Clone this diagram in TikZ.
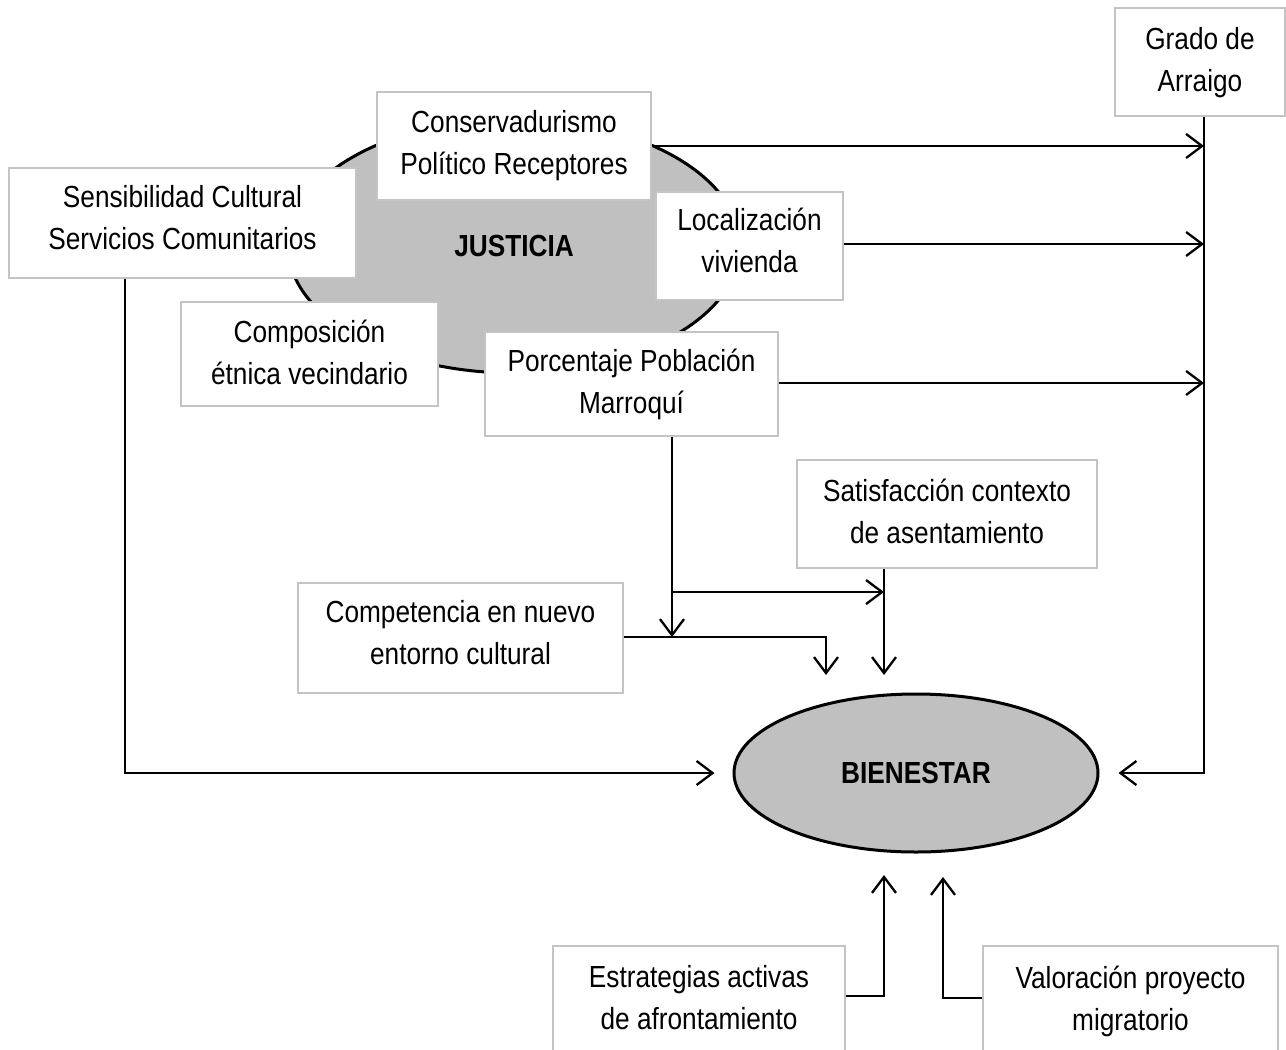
\documentclass[tikz,border=0pt]{standalone}
\usepackage{fontspec}
\setmainfont{Liberation Sans}[FakeStretch=0.86]
\usetikzlibrary{arrows.meta,shapes.geometric}
\definecolor{boxgray}{RGB}{196,196,196}
\definecolor{ellfill}{RGB}{192,192,192}
\tikzset{
  box/.style={draw=boxgray, line width=1.6pt, fill=white, inner sep=0pt},
  txt/.style={inner sep=0pt, align=center, font=\fontsize{30.5}{42}\selectfont},
  ell/.style={ellipse, draw=black, line width=3pt, fill=ellfill, inner sep=0pt,
    font=\fontsize{30.5}{42}\selectfont\bfseries},
  conn/.style={line width=2.3pt, draw=black},
  arr/.style={conn, -{Straight Barb[length=16pt,width=24pt]}},
}
% #1 name, #2 x, #3 y, #4 width, #5 height, #6 text y, #7 text
\newcommand\mybox[7]{%
  \node[box, minimum width=#4pt, minimum height=#5pt] (#1) at (#2,#3) {};
  \node[txt] (#1-t) at (#2,#6) {#7};}
\begin{document}
\begin{tikzpicture}[x=1pt,y=-1pt]
\useasboundingbox (0,0) rectangle (1286,1050);
\clip (0,0) rectangle (1286,1050);
\fill[white] (0,0) rectangle (1286,1050);
% ellipses
\node[ell, minimum width=452pt, minimum height=254pt] (just) at (514,246) {JUSTICIA};
\node[ell, minimum width=364pt, minimum height=158pt] (bien) at (916,773) {BIENESTAR};
% boxes
\mybox{grado}{1200}{62}{170}{108}{63}{Grado de\\Arraigo}
\mybox{cons}{514}{146}{274}{108}{146}{Conservadurismo\\Político Receptores}
\mybox{sens}{182.5}{223}{347}{110}{218}{Sensibilidad Cultural\\Servicios Comunitarios}
\mybox{loc}{749.5}{246}{187}{108}{240.5}{Localización\\vivienda}
\mybox{comp}{309.5}{354}{257}{104}{352}{Composición\\étnica vecindario}
\mybox{porc}{631.5}{384}{293}{104}{384}{Porcentaje Población\\Marroquí}
\mybox{sat}{947}{514}{300}{108}{511}{Satisfacción contexto\\de asentamiento}
\mybox{compet}{460.5}{638}{325}{110}{632.5}{Competencia en nuevo\\entorno cultural}
\mybox{estr}{699}{1000}{292}{108}{997.5}{Estrategias activas\\de afrontamiento}
\mybox{valor}{1130.5}{1000}{295}{108}{1001}{Valoración proyecto\\migratorio}
% helper coordinates
\coordinate (gx) at (1204,0);
\coordinate (sx) at (125,0);
\coordinate (px) at (672,0);
\coordinate (cj) at (672,637);
\coordinate (br) at (672,592);
\coordinate (sj) at (884,592);
\coordinate (st) at (884,675);
\coordinate (ct) at (826,675);
\coordinate (et) at (884,875);
\coordinate (vt) at (943,877);
% connectors to Grado vertical
\draw[arr] (cons.east) -- (cons.east -| gx);
\draw[arr] ([yshift=2pt]loc.east) -- ([yshift=2pt]loc.east -| gx);
\draw[arr] ([yshift=1pt]porc.east) -- ([yshift=1pt]porc.east -| gx);
\draw[arr, shorten >=19pt] (grado.south -| gx) |- (bien.east);
% Sensibilidad
\draw[arr, shorten >=18pt] (sens.south -| sx) |- (bien.west);
% Porcentaje down
\draw[arr] (porc.south -| px) -- (cj);
\draw[arr] (br) -- (sj);
% Satisfaccion down
\draw[arr] (sat.south -| st) -- (st);
% Competencia
\draw[arr] ([yshift=1pt]compet.east) -| (ct);
% bottom
\draw[arr] ([yshift=4pt]estr.east) -| (et);
\draw[arr] ([yshift=2pt]valor.west) -| (vt);
\end{tikzpicture}
\end{document}
